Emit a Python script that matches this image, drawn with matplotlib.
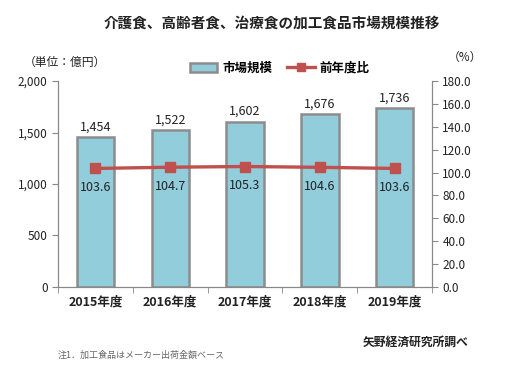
import numpy as np
import matplotlib
matplotlib.use('Agg')
import matplotlib.pyplot as plt
from matplotlib.ticker import FuncFormatter, MultipleLocator

plt.rcParams['font.family'] = ['Noto Sans CJK JP', 'DejaVu Sans']

# data
years = ['2015年度', '2016年度', '2017年度', '2018年度', '2019年度']
market = [1454, 1522, 1602, 1676, 1736]
yoy = [103.6, 104.7, 105.3, 104.6, 103.6]

fig = plt.figure(figsize=(5.18, 3.79), dpi=100)
ax = fig.add_axes([0.112, 0.243, 0.722, 0.543])
ax2 = ax.twinx()

x = np.arange(len(years))
bars = ax.bar(x, market, width=0.5, color='#92CDDC', edgecolor='#8C8C8C',
              linewidth=1.8, label='市場規模', zorder=2)
ax.set_xlim(-0.5, len(years) - 0.5)
ax.set_ylim(0, 2000)
ax.yaxis.set_major_locator(MultipleLocator(500))
ax.yaxis.set_major_formatter(FuncFormatter(lambda v, p: f'{int(v):,}'))
for xi, v in zip(x, market):
    ax.text(xi, v + 40, f'{v:,}', ha='center', va='bottom', fontsize=9, color='#222222')

line, = ax2.plot(x, yoy, color='#C0504D', linewidth=2.4, marker='s',
                 markersize=7, label='前年度比', zorder=3)
ax2.set_ylim(0, 180)
ax2.yaxis.set_major_locator(MultipleLocator(20))
ax2.yaxis.set_major_formatter(FuncFormatter(lambda v, p: f'{v:.1f}'))
for xi, v in zip(x, yoy):
    ax2.text(xi, v - 11, f'{v:.1f}', ha='center', va='top', fontsize=9, color='#222222')

ax.set_xticks(x)
ax.set_xticklabels(years, fontsize=9, fontweight='bold', color='#222222')
ax.set_xticks(np.arange(-0.5, len(years)), minor=True)
ax.tick_params(axis='x', which='major', length=0, pad=6)
ax.tick_params(axis='x', which='minor', length=4, direction='out', color='#888888')
ax.tick_params(axis='y', labelsize=8.5, length=4, color='#888888', labelcolor='#222222')
ax2.tick_params(axis='y', labelsize=8.5, length=4, color='#888888', labelcolor='#222222')

for a in (ax, ax2):
    a.spines['top'].set_visible(False)
    for s in ('left', 'right', 'bottom'):
        a.spines[s].set_color('#888888')
ax.patch.set_visible(False)
ax.set_zorder(ax2.get_zorder() - 1)
ax2.patch.set_visible(False)

fig.text(0.525, 0.94, '介護食、高齢者食、治療食の加工食品市場規模推移', ha='center', va='center',
         fontsize=10.5, fontweight='bold', color='#222222')
fig.text(0.045, 0.835, '（単位：億円）', ha='left', va='center', fontsize=8.5, color='#222222')
fig.text(0.865, 0.848, '（%）', ha='left', va='center', fontsize=8.5, color='#222222')
fig.legend([bars, line], ['市場規模', '前年度比'], loc='center', bbox_to_anchor=(0.54, 0.82),
           ncol=2, frameon=False, handlelength=2.2, columnspacing=1.2, markerscale=0.8,
           handletextpad=0.4, prop={'weight': 'bold', 'size': 9})
fig.text(0.905, 0.098, '矢野経済研究所調べ', ha='right', va='center', fontsize=8.5,
         fontweight='bold', color='#222222')
fig.text(0.112, 0.062, '注1．加工食品はメーカー出荷金額ベース', ha='left', va='center',
         fontsize=6.5, color='#666666')

fig.savefig('out.png', dpi=100)
